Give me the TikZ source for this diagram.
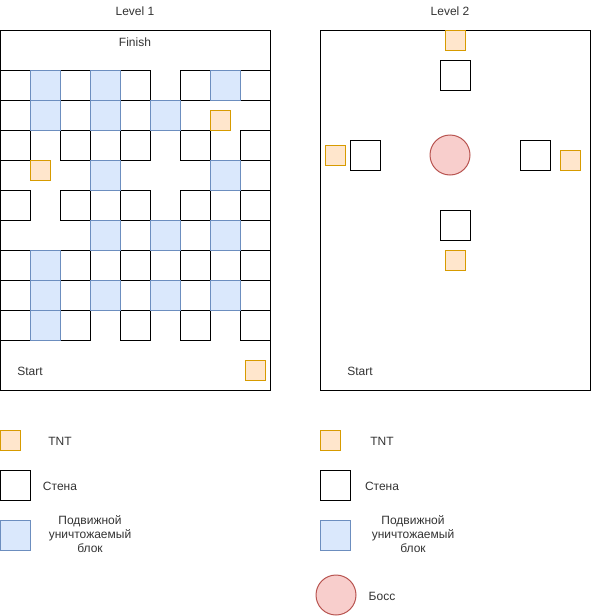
\documentclass[tikz,border=0pt]{standalone}
\usepackage{fontspec}
\setmainfont{Liberation Sans}
\definecolor{moverfill}{HTML}{DAE8FC}
\definecolor{moverline}{HTML}{6C8EBF}
\definecolor{tntfill}{HTML}{FFE6CC}
\definecolor{tntline}{HTML}{D79B00}
\definecolor{bossfill}{HTML}{F8CECC}
\definecolor{bossline}{HTML}{B85450}
\begin{document}
\begin{tikzpicture}[x=1pt, y=-1pt, line width=1pt,
  wall/.style={draw=black},
  mover/.style={draw=moverline, fill=moverfill},
  tnt/.style={draw=tntline, fill=tntfill},
  boss/.style={circle, draw=bossline, fill=bossfill, minimum size=40pt, inner sep=0pt},
  lbl/.style={font=\fontsize{12}{14}\selectfont, text=black!80, align=center}]
\useasboundingbox (0,0) rectangle (591,616);
% Set the cell size
\def\cellsize{30} % Each cell is 30x30 px

% Level 1: frame and titles
\draw[wall] (0.5,30) rectangle (270,390);
\node[lbl] (lvlone) at (135,11) {Level 1};
\node[lbl] (finish) at (135,42) {Finish};
\node[lbl] (startone) at (30,371) {Start};

% Level 1: walls, row by row
\draw[wall] (0,70) rectangle +(30,30);  \draw[wall] (60,70) rectangle +(30,30);  \draw[wall] (120,70) rectangle +(30,30);  \draw[wall] (180,70) rectangle +(30,30);  \draw[wall] (240,70) rectangle +(30,30);
\draw[wall] (0,100) rectangle +(30,30); \draw[wall] (60,100) rectangle +(30,30); \draw[wall] (120,100) rectangle +(30,30);
\draw[wall] (0,130) rectangle +(30,30); \draw[wall] (60,130) rectangle +(30,30); \draw[wall] (90,130) rectangle +(30,30); \draw[wall] (120,130) rectangle +(30,30); \draw[wall] (180,130) rectangle +(30,30); \draw[wall] (240,130) rectangle +(30,30);
\draw[wall] (0,190) rectangle +(30,30); \draw[wall] (60,190) rectangle +(30,30); \draw[wall] (90,190) rectangle +(30,30); \draw[wall] (120,190) rectangle +(30,30); \draw[wall] (180,190) rectangle +(30,30); \draw[wall] (210,190) rectangle +(30,30); \draw[wall] (240,190) rectangle +(30,30);
\draw[wall] (0,250) rectangle +(30,30); \draw[wall] (60,250) rectangle +(30,30); \draw[wall] (90,250) rectangle +(30,30); \draw[wall] (120,250) rectangle +(30,30); \draw[wall] (150,250) rectangle +(30,30); \draw[wall] (180,250) rectangle +(30,30); \draw[wall] (210,250) rectangle +(30,30); \draw[wall] (240,250) rectangle +(30,30);
\draw[wall] (0,280) rectangle +(30,30); \draw[wall] (60,280) rectangle +(30,30); \draw[wall] (120,280) rectangle +(30,30); \draw[wall] (180,280) rectangle +(30,30); \draw[wall] (240,280) rectangle +(30,30);
\draw[wall] (0,310) rectangle +(30,30); \draw[wall] (60,310) rectangle +(30,30); \draw[wall] (120,310) rectangle +(30,30); \draw[wall] (180,310) rectangle +(30,30); \draw[wall] (240,310) rectangle +(30,30);

% Level 1: moving blocks
\draw[mover] (30,70) rectangle +(30,30);  \draw[mover] (90,70) rectangle +(30,30);  \draw[mover] (210,70) rectangle +(30,30);
\draw[mover] (30,100) rectangle +(30,30); \draw[mover] (90,100) rectangle +(30,30); \draw[mover] (150,100) rectangle +(30,30);
\draw[mover] (90,160) rectangle +(30,30); \draw[mover] (210,160) rectangle +(30,30);
\draw[mover] (90,220) rectangle +(30,30); \draw[mover] (150,220) rectangle +(30,30); \draw[mover] (210,220) rectangle +(30,30);
\draw[mover] (30,250) rectangle +(30,30);
\draw[mover] (30,280) rectangle +(30,30); \draw[mover] (90,280) rectangle +(30,30); \draw[mover] (150,280) rectangle +(30,30); \draw[mover] (210,280) rectangle +(30,30);
\draw[mover] (30,310) rectangle +(30,30);

% Level 1: TNT
\draw[tnt] (210,110) rectangle +(20,20);
\draw[tnt] (30,160) rectangle +(20,20);
\draw[tnt] (245,360) rectangle +(20,20);

% Level 2: frame and titles
\draw[wall] (320,30) rectangle (590,390);
\node[lbl] (lvltwo) at (450,11) {Level 2};
\node[lbl] (starttwo) at (360,371) {Start};

% Level 2: walls, TNT and the boss
\draw[wall] (440,60) rectangle +(30,30);
\draw[wall] (350,140) rectangle +(30,30);
\draw[wall] (520,140) rectangle +(30,30);
\draw[wall] (440,210) rectangle +(30,30);
\draw[tnt] (445,30) rectangle +(20,20);
\draw[tnt] (325,145) rectangle +(20,20);
\draw[tnt] (560,150) rectangle +(20,20);
\draw[tnt] (445,250) rectangle +(20,20);
\node[boss] (boss) at (450,155) {};

% Legend for level 1
\draw[tnt] (0.5,430) rectangle +(19.5,20);
\node[lbl] (tntone) at (60,441) {TNT};
\draw[wall] (0.5,470) rectangle +(29.5,30);
\node[lbl] (wallone) at (60,486) {Стена};
\draw[mover] (0.5,520) rectangle +(29.5,30);
\node[lbl] (moverone) at (90,534) {Подвижной\\уничтожаемый\\блок};

% Legend for level 2
\draw[tnt] (320,430) rectangle +(20,20);
\node[lbl] (tnttwo) at (382,441) {TNT};
\draw[wall] (320,470) rectangle +(30,30);
\node[lbl] (walltwo) at (382,486) {Стена};
\draw[mover] (320,520) rectangle +(30,30);
\node[lbl] (movertwo) at (413,534) {Подвижной\\уничтожаемый\\блок};
\node[boss] (bosskey) at (336,595) {};
\node[lbl] (bosstext) at (382,596) {Босс};
\end{tikzpicture}
\end{document}
